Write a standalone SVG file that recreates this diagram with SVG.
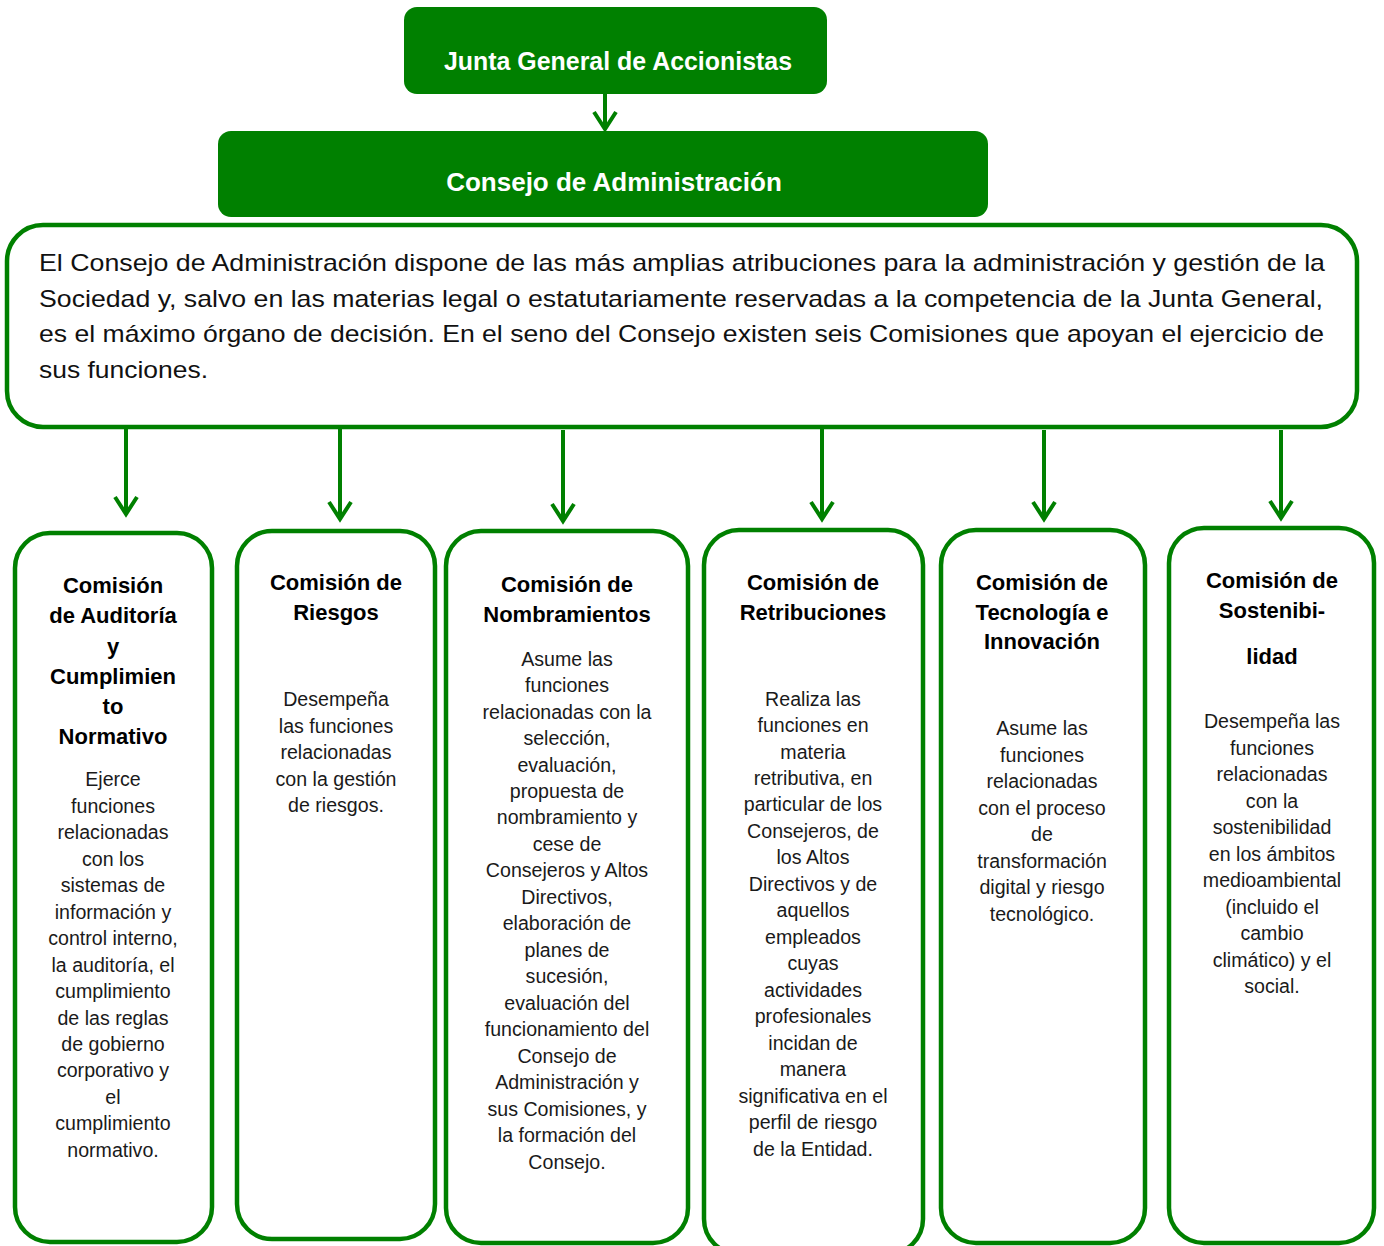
<svg xmlns="http://www.w3.org/2000/svg" width="1384" height="1246" viewBox="0 0 1384 1246">
  <defs>
    <style>
      .solid { fill: #008000; }
      .frame { fill: #ffffff; stroke: #008000; stroke-width: 4.5; }
      .link { stroke: #008000; stroke-width: 4; fill: none; marker-end: url(#chev); }
      .hdr { font-family: "Liberation Sans", Arial, sans-serif; font-weight: bold; fill: #ffffff; text-anchor: middle; }
      .lead { font-family: "Liberation Sans", Arial, sans-serif; font-size: 24px; fill: #111111; }
      .ttl { font-family: "Liberation Sans", Arial, sans-serif; font-size: 22px; font-weight: bold; fill: #000000; text-anchor: middle; }
      .body { font-family: "Liberation Sans", Arial, sans-serif; font-size: 19.6px; fill: #1a1a1a; text-anchor: middle; }
    </style>
    <marker id="chev" viewBox="-20 -14 24 28" refX="0" refY="0" markerWidth="24" markerHeight="28" markerUnits="userSpaceOnUse" orient="auto">
      <path d="M-17,-11 L0,0 L-17,11" fill="none" stroke="#008000" stroke-width="4" stroke-linejoin="miter"/>
    </marker>
  </defs>

  <!-- connectors -->
  <g id="connectors">
    <line class="link" x1="605" y1="93" x2="605" y2="129"/>
    <line class="link" x1="126" y1="424" x2="126" y2="514"/>
    <line class="link" x1="340" y1="428" x2="340" y2="519"/>
    <line class="link" x1="563" y1="430" x2="563" y2="521"/>
    <line class="link" x1="822" y1="428" x2="822" y2="519"/>
    <line class="link" x1="1044" y1="430" x2="1044" y2="519"/>
    <line class="link" x1="1281" y1="430" x2="1281" y2="518"/>
  </g>

  <!-- top level -->
  <g id="junta">
    <rect class="solid" x="404" y="7" width="423" height="87" rx="13"/>
    <text class="hdr" x="618" y="70" font-size="25" font-family="Lato, 'Liberation Sans', sans-serif" textLength="348" lengthAdjust="spacingAndGlyphs">Junta General de Accionistas</text>
  </g>

  <g id="consejo">
    <rect class="solid" x="218" y="131" width="770" height="86" rx="13"/>
    <text class="hdr" x="614" y="191" font-size="26">Consejo de Administración</text>
  </g>

  <g id="consejo-descripcion">
    <rect class="frame" x="7" y="225" width="1350" height="202" rx="36"/>
    <text class="lead" x="39" y="271" textLength="1286" lengthAdjust="spacingAndGlyphs">El Consejo de Administración dispone de las más amplias atribuciones para la administración y gestión de la</text>
    <text class="lead" x="39" y="307" textLength="1284" lengthAdjust="spacingAndGlyphs">Sociedad y, salvo en las materias legal o estatutariamente reservadas a la competencia de la Junta General,</text>
    <text class="lead" x="39" y="342" textLength="1285" lengthAdjust="spacingAndGlyphs">es el máximo órgano de decisión. En el seno del Consejo existen seis Comisiones que apoyan el ejercicio de</text>
    <text class="lead" x="39" y="378" textLength="169" lengthAdjust="spacingAndGlyphs">sus funciones.</text>
  </g>

  <!-- committees: one text element per line keeps centring exact -->
  <g id="comision-auditoria">
    <rect class="frame" x="15" y="533" width="197" height="709" rx="35"/>
    <text class="ttl" x="113" y="593">Comisión</text>
    <text class="ttl" x="113" y="623">de Auditoría</text>
    <text class="ttl" x="113" y="654">y</text>
    <text class="ttl" x="113" y="684">Cumplimien</text>
    <text class="ttl" x="113" y="714">to</text>
    <text class="ttl" x="113" y="744">Normativo</text>
    <text class="body" x="113" y="786">Ejerce</text>
    <text class="body" x="113" y="813">funciones</text>
    <text class="body" x="113" y="839">relacionadas</text>
    <text class="body" x="113" y="866">con los</text>
    <text class="body" x="113" y="892">sistemas de</text>
    <text class="body" x="113" y="919">información y</text>
    <text class="body" x="113" y="945">control interno,</text>
    <text class="body" x="113" y="972">la auditoría, el</text>
    <text class="body" x="113" y="998">cumplimiento</text>
    <text class="body" x="113" y="1025">de las reglas</text>
    <text class="body" x="113" y="1051">de gobierno</text>
    <text class="body" x="113" y="1077">corporativo y</text>
    <text class="body" x="113" y="1104">el</text>
    <text class="body" x="113" y="1130">cumplimiento</text>
    <text class="body" x="113" y="1157">normativo.</text>
  </g>

  <g id="comision-riesgos">
    <rect class="frame" x="237" y="531" width="198" height="708" rx="35"/>
    <text class="ttl" x="336" y="590">Comisión de</text>
    <text class="ttl" x="336" y="620">Riesgos</text>
    <text class="body" x="336" y="706">Desempeña</text>
    <text class="body" x="336" y="733">las funciones</text>
    <text class="body" x="336" y="759">relacionadas</text>
    <text class="body" x="336" y="786">con la gestión</text>
    <text class="body" x="336" y="812">de riesgos.</text>
  </g>

  <g id="comision-nombramientos">
    <rect class="frame" x="446" y="531" width="242" height="712" rx="35"/>
    <text class="ttl" x="567" y="592">Comisión de</text>
    <text class="ttl" x="567" y="622">Nombramientos</text>
    <text class="body" x="567" y="666">Asume las</text>
    <text class="body" x="567" y="692">funciones</text>
    <text class="body" x="567" y="719">relacionadas con la</text>
    <text class="body" x="567" y="745">selección,</text>
    <text class="body" x="567" y="772">evaluación,</text>
    <text class="body" x="567" y="798">propuesta de</text>
    <text class="body" x="567" y="824">nombramiento y</text>
    <text class="body" x="567" y="851">cese de</text>
    <text class="body" x="567" y="877">Consejeros y Altos</text>
    <text class="body" x="567" y="904">Directivos,</text>
    <text class="body" x="567" y="930">elaboración de</text>
    <text class="body" x="567" y="957">planes de</text>
    <text class="body" x="567" y="983">sucesión,</text>
    <text class="body" x="567" y="1010">evaluación del</text>
    <text class="body" x="567" y="1036">funcionamiento del</text>
    <text class="body" x="567" y="1063">Consejo de</text>
    <text class="body" x="567" y="1089">Administración y</text>
    <text class="body" x="567" y="1116">sus Comisiones, y</text>
    <text class="body" x="567" y="1142">la formación del</text>
    <text class="body" x="567" y="1169">Consejo.</text>
  </g>

  <g id="comision-retribuciones">
    <rect class="frame" x="704" y="530" width="219" height="724" rx="35"/>
    <text class="ttl" x="813" y="590">Comisión de</text>
    <text class="ttl" x="813" y="620">Retribuciones</text>
    <text class="body" x="813" y="706">Realiza las</text>
    <text class="body" x="813" y="732">funciones en</text>
    <text class="body" x="813" y="759">materia</text>
    <text class="body" x="813" y="785">retributiva, en</text>
    <text class="body" x="813" y="811">particular de los</text>
    <text class="body" x="813" y="838">Consejeros, de</text>
    <text class="body" x="813" y="864">los Altos</text>
    <text class="body" x="813" y="891">Directivos y de</text>
    <text class="body" x="813" y="917">aquellos</text>
    <text class="body" x="813" y="944">empleados</text>
    <text class="body" x="813" y="970">cuyas</text>
    <text class="body" x="813" y="997">actividades</text>
    <text class="body" x="813" y="1023">profesionales</text>
    <text class="body" x="813" y="1050">incidan de</text>
    <text class="body" x="813" y="1076">manera</text>
    <text class="body" x="813" y="1103">significativa en el</text>
    <text class="body" x="813" y="1129">perfil de riesgo</text>
    <text class="body" x="813" y="1156">de la Entidad.</text>
  </g>

  <g id="comision-tecnologia">
    <rect class="frame" x="941" y="530" width="204" height="713" rx="35"/>
    <text class="ttl" x="1042" y="590">Comisión de</text>
    <text class="ttl" x="1042" y="620">Tecnología e</text>
    <text class="ttl" x="1042" y="649">Innovación</text>
    <text class="body" x="1042" y="735">Asume las</text>
    <text class="body" x="1042" y="762">funciones</text>
    <text class="body" x="1042" y="788">relacionadas</text>
    <text class="body" x="1042" y="815">con el proceso</text>
    <text class="body" x="1042" y="841">de</text>
    <text class="body" x="1042" y="868">transformación</text>
    <text class="body" x="1042" y="894">digital y riesgo</text>
    <text class="body" x="1042" y="921">tecnológico.</text>
  </g>

  <g id="comision-sostenibilidad">
    <rect class="frame" x="1169" y="528" width="205" height="715" rx="35"/>
    <text class="ttl" x="1272" y="588">Comisión de</text>
    <text class="ttl" x="1272" y="618">Sostenibi-</text>
    <text class="ttl" x="1272" y="664">lidad</text>
    <text class="body" x="1272" y="728">Desempeña las</text>
    <text class="body" x="1272" y="755">funciones</text>
    <text class="body" x="1272" y="781">relacionadas</text>
    <text class="body" x="1272" y="808">con la</text>
    <text class="body" x="1272" y="834">sostenibilidad</text>
    <text class="body" x="1272" y="861">en los ámbitos</text>
    <text class="body" x="1272" y="887">medioambiental</text>
    <text class="body" x="1272" y="914">(incluido el</text>
    <text class="body" x="1272" y="940">cambio</text>
    <text class="body" x="1272" y="967">climático) y el</text>
    <text class="body" x="1272" y="993">social.</text>
  </g>
</svg>
